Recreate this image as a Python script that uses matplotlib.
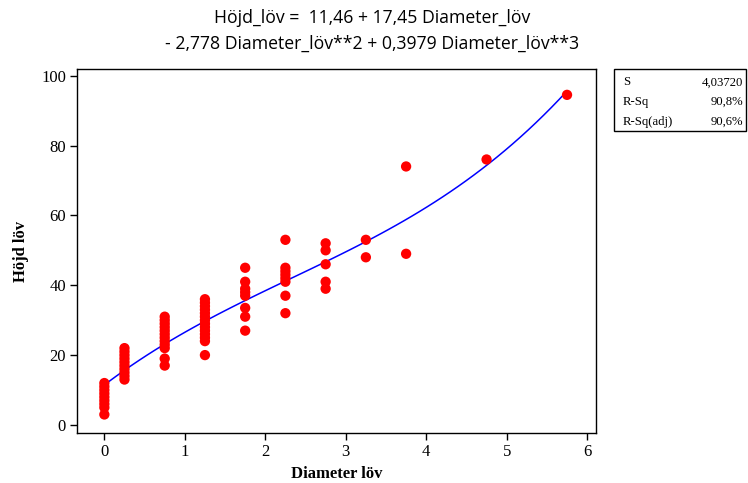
import numpy as np
import matplotlib.pyplot as plt
from matplotlib.patches import Rectangle

#%% data
diam = ([0.0] * 9 + [0.25] * 10 + [0.75] * 12 + [1.25] * 14 + [1.75] * 8 +
        [2.25] * 8 + [2.75] * 5 + [3.25] * 2 + [3.75] * 2 + [4.75] + [5.75])
hojd = ([12, 11, 10, 9, 8, 7, 6, 5, 3] +
        [22, 21, 20, 19, 18, 17, 16, 15, 14, 13] +
        [31, 30, 29, 28, 27, 26, 25, 24, 23, 22, 19, 17] +
        [36, 35, 34, 33, 32, 31, 30, 29, 28, 27, 26, 25, 24, 20] +
        [45, 41, 39, 38, 37, 33.5, 31, 27] +
        [53, 45, 44, 43, 42, 41, 37, 32] +
        [52, 50, 46, 41, 39] +
        [53, 48] +
        [74, 49] +
        [76] +
        [94.5])
# regression coefficients as printed in the title
coef = [11.46, 17.45, -2.778, 0.3979]
stats_names = ['S', 'R-Sq', 'R-Sq(adj)']
stats_values = ['4,03720', '90,8%', '90,6%']

#%% plot
W, H = 748, 483
fig = plt.figure(figsize=(W / 100, H / 100), dpi=100)
ax = fig.add_axes([77 / W, 1 - 433 / H, (596 - 77) / W, (433 - 69) / H])

xf = np.linspace(0.05, 5.75, 60)
yf = coef[0] + coef[1] * xf + coef[2] * xf**2 + coef[3] * xf**3
ax.plot(xf, yf, color='blue', lw=1.1, zorder=2)
ax.scatter(diam, hojd, s=55, color='red', edgecolors='none', zorder=3)

ax.set_xlim(-0.34, 6.11)
ax.set_ylim(-2.3, 101.9)
ax.set_xticks(np.arange(7))
ax.set_yticks(np.arange(0, 101, 20))
ax.tick_params(top=False, right=False, direction='out', length=5, width=1.0,
               labelsize=12, pad=3)
for lab in ax.get_xticklabels() + ax.get_yticklabels():
    lab.set_family('Liberation Serif')
for sp in ax.spines.values():
    sp.set_linewidth(1.0)

ax.set_xlabel('Diameter löv', family='Liberation Serif', fontweight='bold', fontsize=12, labelpad=4)
ax.set_ylabel('Höjd löv', family='Liberation Serif', fontweight='bold', fontsize=12, labelpad=9)

fig.text(0.497, 1 - 18 / H, 'Höjd_löv =  11,46 + 17,45 Diameter_löv',
         ha='center', va='center', family='Open Sans', fontsize=12.7)
fig.text(0.497, 1 - 44 / H, '- 2,778 Diameter_löv**2 + 0,3979 Diameter_löv**3',
         ha='center', va='center', family='Open Sans', fontsize=12.7)

# stats box
fig.patches.append(Rectangle((614 / W, 1 - 131 / H), (746 - 614) / W, (131 - 69) / H,
                             transform=fig.transFigure, fill=False, ec='black', lw=1.0))
for i, (nm, val) in enumerate(zip(stats_names, stats_values)):
    yy = 1 - (82.5 + i * 19.5) / H
    fig.text(623 / W, yy, nm, ha='left', va='center', family='Liberation Serif', fontsize=9.2)
    fig.text(743 / W, yy, val, ha='right', va='center', family='Liberation Serif', fontsize=9.2)

plt.savefig('out.png', dpi=100)
